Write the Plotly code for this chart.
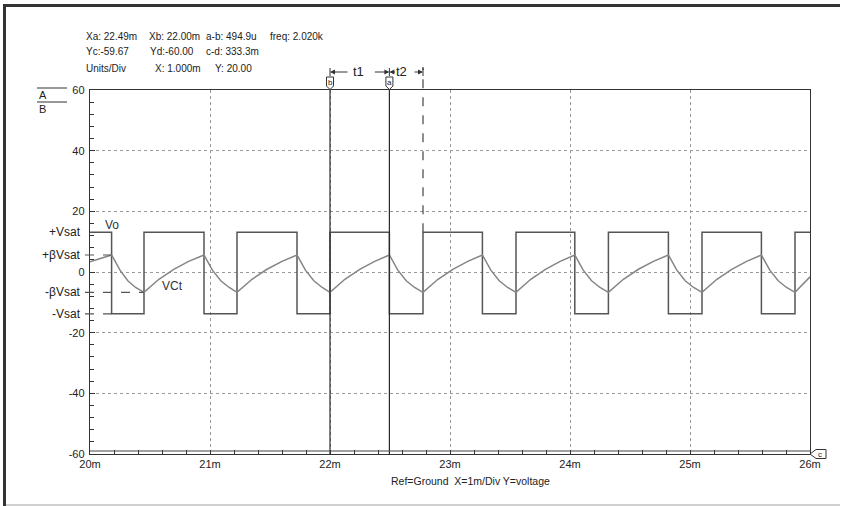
import plotly.graph_objects as go

# ---------------- data ----------------
# Vo square wave: time (ms) of each level change and the level held after it
vo_t = [20.0, 20.18, 20.45, 20.95, 21.225, 21.725, 22.0, 22.495, 22.775,
        23.27, 23.55, 24.04, 24.32, 24.82, 25.10, 25.595, 25.875, 26.0]
vo_v = [13.1, -13.8, 13.1, -13.8, 13.1, -13.8, 13.1, -13.8, 13.1,
        -13.8, 13.1, -13.8, 13.1, -13.8, 13.1, -13.8, 13.1, 13.1]

# VCt capacitor voltage samples
vct_t = [20.00, 20.09, 20.18,
         20.25, 20.315, 20.38, 20.45, 20.574, 20.698, 20.822, 20.95,
         21.02, 21.09, 21.16, 21.225, 21.35, 21.475, 21.60, 21.725,
         21.795, 21.865, 21.935, 22.00, 22.124, 22.248, 22.372, 22.495,
         22.565, 22.635, 22.705, 22.775, 22.90, 23.024, 23.148, 23.27,
         23.34, 23.41, 23.48, 23.55, 23.673, 23.795, 23.918, 24.04,
         24.11, 24.18, 24.25, 24.32, 24.445, 24.57, 24.695, 24.82,
         24.89, 24.96, 25.03, 25.10, 25.224, 25.348, 25.472, 25.595,
         25.665, 25.735, 25.805, 25.875, 26.0]
vct_v = [3.4, 4.5, 5.6,
         0.6, -2.9, -5.1, -6.7, -2.4, 0.9, 3.5, 5.6,
         0.6, -2.9, -5.1, -6.7, -2.4, 0.9, 3.5, 5.6,
         0.6, -2.9, -5.1, -6.7, -2.4, 0.9, 3.5, 5.6,
         0.6, -2.9, -5.1, -6.7, -2.4, 0.9, 3.5, 5.6,
         0.6, -2.9, -5.1, -6.7, -2.4, 0.9, 3.5, 5.6,
         0.6, -2.9, -5.1, -6.7, -2.4, 0.9, 3.5, 5.6,
         0.6, -2.9, -5.1, -6.7, -2.4, 0.9, 3.5, 5.6,
         0.6, -2.9, -5.1, -6.7, -1.6]

x_ticks = [20, 21, 22, 23, 24, 25, 26]
x_ticktext = ["20m", "21m", "22m", "23m", "24m", "25m", "26m"]
y_ticks = [-60, -40, -20, 0, 20, 40, 60]
y_ticktext = ["-60", "-40", "-20", "0", "20", "40", "60"]

level_names = ["+Vsat", "+\u03b2Vsat", "-\u03b2Vsat", "-Vsat"]
level_vals = [13.1, 5.6, -6.7, -13.8]

cursor_b = 22.00
cursor_a = 22.495
cursor_t2 = 22.775

header_rows = [
    ["Xa: 22.49m", "Xb: 22.00m", "a-b: 494.9u", "freq: 2.020k"],
    ["Yc:-59.67", "Yd:-60.00", "c-d: 333.3m"],
    ["Units/Div", "X: 1.000m", "Y: 20.00"],
]
caption = "Ref=Ground  X=1m/Div Y=voltage"

# ---------------- layout geometry ----------------
W, H = 847, 506
L, R, T, B = 90, 37, 90, 52
PW, PH = W - L - R, H - T - B
X0, X1 = 20, 26
FONT = "Liberation Sans, Arial, sans-serif"


def xp(px):  # pixel -> paper x
    return (px - L) / PW


def yp(py):  # pixel -> paper y
    return (H - B - py) / PH


def xdp(t):  # data x -> paper x
    return (t - X0) / (X1 - X0)


fig = go.Figure()

fig.add_trace(go.Scatter(x=vo_t, y=vo_v, mode="lines", line_shape="hv",
                         line=dict(color="#555555", width=1.5),
                         showlegend=False, hoverinfo="skip"))
fig.add_trace(go.Scatter(x=vct_t, y=vct_v, mode="lines",
                         line=dict(color="#858585", width=1.5),
                         showlegend=False, hoverinfo="skip"))

shapes = []
annotations = []


def bar(px0, py0, px1, py1, color):
    shapes.append(dict(type="rect", xref="paper", yref="paper",
                       x0=xp(px0), x1=xp(px1), y0=yp(py1), y1=yp(py0),
                       line=dict(width=0), fillcolor=color, layer="above"))


# outer frame: dark top/left, light bottom
bar(3, 4, 420, 7, "#333333")      # top (left half)
bar(420, 4, 840, 7, "#333333")    # top (right half)
bar(3, 4, 6, 506, "#333333")      # left
bar(6, 504, 840, 506, "#d0d0d0")  # bottom

# dashed reference lines for the levels
for val, tend in [(level_vals[1], vo_t[1]), (level_vals[2], vo_t[2]),
                  (level_vals[3], vo_t[1])]:
    shapes.append(dict(type="line", xref="paper", yref="y",
                       x0=xp(85), x1=xdp(tend), y0=val, y1=val,
                       line=dict(color="#555", width=1.2, dash="dash")))

# cursor lines a and b
for cx in [cursor_b, cursor_a]:
    shapes.append(dict(type="line", xref="paper", yref="paper",
                       x0=xdp(cx), x1=xdp(cx), y0=0, y1=1,
                       line=dict(color="#2a2a2a", width=1.2)))
# dashed t2 end line
shapes.append(dict(type="line", xref="paper", yref="paper",
                   x0=xdp(cursor_t2), x1=xdp(cursor_t2),
                   y0=(vo_v[0] + 60) / 120, y1=yp(67),
                   line=dict(color="#444", width=1.2, dash="dash")))

# cursor markers (boxes with letters)
for cx, letter in [(cursor_b, "b"), (cursor_a, "a")]:
    c = xdp(cx)
    hw = 3.5 / PW
    path = (f"M {c-hw},{yp(77)} L {c+hw},{yp(77)} L {c+hw},{yp(86)} "
            f"L {c},{yp(89.5)} L {c-hw},{yp(86)} Z")
    shapes.append(dict(type="path", xref="paper", yref="paper", path=path,
                       line=dict(color="#333", width=1), fillcolor="white"))
    annotations.append(dict(xref="paper", yref="paper", x=c, y=yp(82),
                            text=letter, showarrow=False,
                            font=dict(family=FONT, size=8, color="#222"),
                            xanchor="center", yanchor="middle"))

# t1 / t2 dimension markers
ty = yp(72)
for cx in [cursor_b, cursor_a, cursor_t2]:
    shapes.append(dict(type="line", xref="paper", yref="paper",
                       x0=xdp(cx), x1=xdp(cx), y0=yp(68), y1=yp(76),
                       line=dict(color="#333", width=1)))
arrow_specs = [(cursor_b, 19), (cursor_a, -16), (cursor_a, 7), (cursor_t2, -10)]
for cx, ax in arrow_specs:
    annotations.append(dict(xref="paper", yref="paper", x=xdp(cx), y=ty,
                            ax=ax, ay=0, text="", showarrow=True,
                            arrowhead=2, arrowsize=1, arrowwidth=1,
                            arrowcolor="#333"))
annotations.append(dict(xref="paper", yref="paper", x=xp(358), y=ty,
                        text="t1", showarrow=False,
                        font=dict(family=FONT, size=13, color="#222"),
                        xanchor="center", yanchor="middle"))
annotations.append(dict(xref="paper", yref="paper", x=xp(401), y=ty,
                        text="t2", showarrow=False,
                        font=dict(family=FONT, size=13, color="#222"),
                        xanchor="center", yanchor="middle"))

# bottom double line (cursors c/d)
shapes.append(dict(type="line", xref="paper", yref="paper", x0=0, x1=1,
                   y0=3 / PH, y1=3 / PH, line=dict(color="#444", width=1)))
# c marker at right bottom
cpath = (f"M {xp(810)},{yp(454)} L {xp(816)},{yp(449.5)} L {xp(826)},{yp(449.5)} "
         f"L {xp(826)},{yp(458.5)} L {xp(816)},{yp(458.5)} Z")
shapes.append(dict(type="path", xref="paper", yref="paper", path=cpath,
                   line=dict(color="#333", width=1), fillcolor="white"))
annotations.append(dict(xref="paper", yref="paper", x=xp(820), y=yp(454),
                        text="c", showarrow=False,
                        font=dict(family=FONT, size=8, color="#222"),
                        xanchor="center", yanchor="middle"))

# level labels on the y side
for name, val in zip(level_names, level_vals):
    annotations.append(dict(xref="paper", yref="y", x=xp(83), y=val,
                            text=name, showarrow=False,
                            font=dict(family=FONT, size=12, color="#222"),
                            xanchor="right", yanchor="middle"))

# trace labels
annotations.append(dict(xref="paper", yref="paper", x=xp(103), y=yp(225),
                        text="Vo", showarrow=False,
                        font=dict(family=FONT, size=12, color="#333"),
                        xanchor="left", yanchor="middle"))
annotations.append(dict(xref="paper", yref="paper", x=xp(160), y=yp(286),
                        text="VCt", showarrow=False,
                        font=dict(family=FONT, size=12, color="#333"),
                        xanchor="left", yanchor="middle"))

# header text
col_px = [[84, 147, 204, 268], [84, 148, 204], [84, 153, 213]]
row_py = [36, 52, 68]
for row, cols, py in zip(header_rows, col_px, row_py):
    for txt, px in zip(row, cols):
        annotations.append(dict(xref="paper", yref="paper", x=xp(px), y=yp(py),
                                text=txt, showarrow=False,
                                font=dict(family=FONT, size=10, color="#222"),
                                xanchor="left", yanchor="middle"))

# A / B channel labels
for lab, line_py, txt_py in [("A", 88, 95), ("B", 102, 109)]:
    shapes.append(dict(type="line", xref="paper", yref="paper",
                       x0=xp(37), x1=xp(67), y0=yp(line_py), y1=yp(line_py),
                       line=dict(color="#333", width=1)))
    annotations.append(dict(xref="paper", yref="paper", x=xp(37), y=yp(txt_py),
                            text=lab, showarrow=False,
                            font=dict(family=FONT, size=11, color="#222"),
                            xanchor="left", yanchor="middle"))

# caption
annotations.append(dict(xref="paper", yref="paper", x=xp(470), y=yp(481),
                        text=caption, showarrow=False,
                        font=dict(family=FONT, size=10.5, color="#222"),
                        xanchor="center", yanchor="middle"))

axis_font = dict(family=FONT, size=11, color="#222")
fig.update_layout(
    width=W, height=H,
    margin=dict(l=L, r=R, t=T, b=B, pad=0),
    paper_bgcolor="white", plot_bgcolor="white",
    showlegend=False,
    shapes=shapes, annotations=annotations,
    xaxis=dict(range=[X0, X1], tickvals=x_ticks, ticktext=x_ticktext,
               showgrid=True, gridcolor="#9a9a9a", griddash="dot", gridwidth=1,
               zeroline=False, showline=True, mirror=True,
               linecolor="#333", linewidth=1.2,
               ticks="inside", ticklen=4, tickcolor="#333",
               minor=dict(dtick=0.2, ticks="inside", ticklen=4,
                          tickcolor="#333", showgrid=False),
               tickfont=axis_font, fixedrange=True),
    yaxis=dict(range=[-60, 60], tickvals=y_ticks, ticktext=y_ticktext,
               showgrid=True, gridcolor="#9a9a9a", griddash="dot", gridwidth=1,
               zeroline=False, showline=True, mirror=True,
               linecolor="#333", linewidth=1.2,
               ticks="inside", ticklen=5, tickcolor="#333",
               minor=dict(dtick=4, ticks="inside", ticklen=4,
                          tickcolor="#333", showgrid=False),
               tickfont=axis_font, ticklabelstandoff=2, fixedrange=True),
)

fig.write_html("out.html",
               config={"displayModeBar": False, "staticPlot": True},
               post_script="document.body.style.margin='0';"
                           "document.body.style.overflow='hidden';")
